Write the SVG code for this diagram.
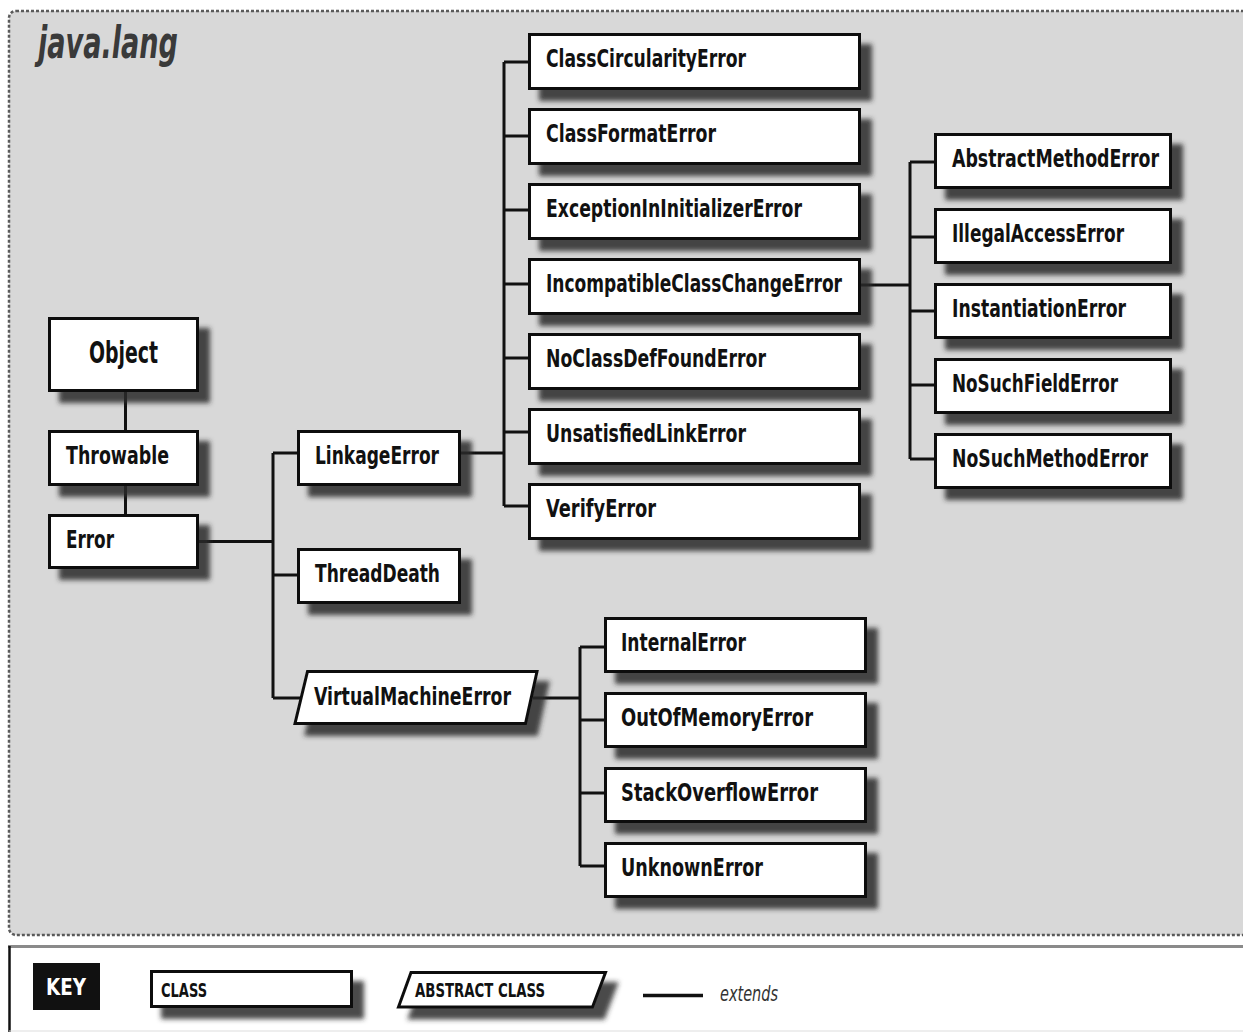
<svg xmlns="http://www.w3.org/2000/svg" width="1243" height="1032" viewBox="0 0 1243 1032">
<defs>
<filter id="sh" x="-20%" y="-40%" width="150%" height="200%">
<feDropShadow dx="11" dy="11" stdDeviation="2.6" flood-color="#2a2a2a" flood-opacity="0.85"/>
</filter>
<style>
.box{fill:#fff;stroke:#111;stroke-width:3;filter:url(#sh)}
.lbl{font-family:"Liberation Sans Narrow","DejaVu Sans Condensed","Liberation Sans",sans-serif;font-weight:bold;font-size:25px;fill:#111}
.big{font-size:31px}
.con path{fill:none;stroke:#111;stroke-width:3}
.key{font-family:"Liberation Sans Narrow","DejaVu Sans Condensed","Liberation Sans",sans-serif;font-weight:bold;font-size:19px;fill:#111}
</style>
</defs>
<rect width="1243" height="1032" fill="#ffffff"/>
<rect x="9" y="11" width="1260" height="924" rx="7" fill="#d8d8d8" stroke="#5a5a5a" stroke-width="2.5" stroke-dasharray="3 2"/>
<text x="38" y="58" textLength="140" lengthAdjust="spacingAndGlyphs" style="font-family:'Liberation Sans Narrow','DejaVu Sans Condensed','Liberation Sans',sans-serif;font-weight:bold;font-style:italic;font-size:44px;fill:#3a3a3a">java.lang</text>

<g class="con" id="connectors">
<path d="M125.5 391V430M125.5 486V514"/>
<path d="M199 541.5H273M273 453V698M273 453H297M273 575H297M273 698H300"/>
<path d="M461 453H504M504 62V506M504 62H528M504 136H528M504 210H528M504 284H528M504 358H528M504 432H528M504 506H528"/>
<path d="M860 285H910M910 162V459M910 162H934M910 237H934M910 311H934M910 385H934M910 459H934"/>
<path d="M533 698H580M580 647V866M580 647H604M580 720H604M580 793H604M580 866H604"/>
</g>

<g id="Object"><rect class="box" x="49.5" y="318.5" width="148" height="72"/><text class="lbl big" x="89" y="363" textLength="69" lengthAdjust="spacingAndGlyphs">Object</text></g>
<g id="Throwable"><rect class="box" x="49.5" y="431.5" width="148" height="53"/><text class="lbl" x="66" y="464" textLength="103" lengthAdjust="spacingAndGlyphs">Throwable</text></g>
<g id="Error"><rect class="box" x="49.5" y="515.5" width="148" height="52"/><text class="lbl" x="66" y="548" textLength="48" lengthAdjust="spacingAndGlyphs">Error</text></g>
<g id="LinkageError"><rect class="box" x="298.5" y="431.5" width="161" height="53"/><text class="lbl" x="315" y="464" textLength="124" lengthAdjust="spacingAndGlyphs">LinkageError</text></g>
<g id="ThreadDeath"><rect class="box" x="298.5" y="549.5" width="161" height="53"/><text class="lbl" x="315" y="582" textLength="125" lengthAdjust="spacingAndGlyphs">ThreadDeath</text></g>
<g id="VirtualMachineError"><path class="box" d="M307.5 671.5H537L525.5 723.5H295Z"/><text class="lbl" x="314" y="705" textLength="197" lengthAdjust="spacingAndGlyphs">VirtualMachineError</text></g>

<g id="ClassCircularityError"><rect class="box" x="529.5" y="34.5" width="330" height="54"/><text class="lbl" x="546" y="67" textLength="200" lengthAdjust="spacingAndGlyphs">ClassCircularityError</text></g>
<g id="ClassFormatError"><rect class="box" x="529.5" y="109.5" width="330" height="54"/><text class="lbl" x="546" y="142" textLength="170" lengthAdjust="spacingAndGlyphs">ClassFormatError</text></g>
<g id="ExceptionInInitializerError"><rect class="box" x="529.5" y="184.5" width="330" height="54"/><text class="lbl" x="546" y="217" textLength="256" lengthAdjust="spacingAndGlyphs">ExceptionInInitializerError</text></g>
<g id="IncompatibleClassChangeError"><rect class="box" x="529.5" y="259.5" width="330" height="54"/><text class="lbl" x="546" y="292" textLength="296" lengthAdjust="spacingAndGlyphs">IncompatibleClassChangeError</text></g>
<g id="NoClassDefFoundError"><rect class="box" x="529.5" y="334.5" width="330" height="54"/><text class="lbl" x="546" y="367" textLength="220" lengthAdjust="spacingAndGlyphs">NoClassDefFoundError</text></g>
<g id="UnsatisfiedLinkError"><rect class="box" x="529.5" y="409.5" width="330" height="54"/><text class="lbl" x="546" y="442" textLength="200" lengthAdjust="spacingAndGlyphs">UnsatisfiedLinkError</text></g>
<g id="VerifyError"><rect class="box" x="529.5" y="484.5" width="330" height="54"/><text class="lbl" x="546" y="517" textLength="110" lengthAdjust="spacingAndGlyphs">VerifyError</text></g>

<g id="AbstractMethodError"><rect class="box" x="935.5" y="134.5" width="235" height="53"/><text class="lbl" x="952" y="167" textLength="207" lengthAdjust="spacingAndGlyphs">AbstractMethodError</text></g>
<g id="IllegalAccessError"><rect class="box" x="935.5" y="209.5" width="235" height="53"/><text class="lbl" x="952" y="242" textLength="172" lengthAdjust="spacingAndGlyphs">IllegalAccessError</text></g>
<g id="InstantiationError"><rect class="box" x="935.5" y="284.5" width="235" height="53"/><text class="lbl" x="952" y="317" textLength="174" lengthAdjust="spacingAndGlyphs">InstantiationError</text></g>
<g id="NoSuchFieldError"><rect class="box" x="935.5" y="359.5" width="235" height="53"/><text class="lbl" x="952" y="392" textLength="166" lengthAdjust="spacingAndGlyphs">NoSuchFieldError</text></g>
<g id="NoSuchMethodError"><rect class="box" x="935.5" y="434.5" width="235" height="53"/><text class="lbl" x="952" y="467" textLength="196" lengthAdjust="spacingAndGlyphs">NoSuchMethodError</text></g>

<g id="InternalError"><rect class="box" x="605.5" y="618.5" width="260" height="53"/><text class="lbl" x="621" y="651" textLength="125" lengthAdjust="spacingAndGlyphs">InternalError</text></g>
<g id="OutOfMemoryError"><rect class="box" x="605.5" y="693.5" width="260" height="53"/><text class="lbl" x="621" y="726" textLength="192" lengthAdjust="spacingAndGlyphs">OutOfMemoryError</text></g>
<g id="StackOverflowError"><rect class="box" x="605.5" y="768.5" width="260" height="53"/><text class="lbl" x="621" y="801" textLength="197" lengthAdjust="spacingAndGlyphs">StackOverflowError</text></g>
<g id="UnknownError"><rect class="box" x="605.5" y="843.5" width="260" height="53"/><text class="lbl" x="621" y="876" textLength="142" lengthAdjust="spacingAndGlyphs">UnknownError</text></g>

<g id="key">
<rect x="9" y="947" width="1250" height="84" fill="#fff"/>
<path d="M8 946.5H1243" stroke="#8a8a8a" stroke-width="3"/>
<path d="M9.5 946V1032" stroke="#111" stroke-width="2.5"/>
<path d="M9 1031H1243" stroke="#dddddd" stroke-width="1"/>
<rect x="33" y="963" width="67" height="47" fill="#111"/>
<text class="key" x="46" y="995" textLength="40" lengthAdjust="spacingAndGlyphs" style="fill:#fff;font-size:23px">KEY</text>
<rect class="box" x="151.5" y="971.5" width="200" height="35" style="stroke-width:3"/>
<text class="key" x="161" y="997" textLength="46" lengthAdjust="spacingAndGlyphs">CLASS</text>
<path class="box" d="M411 972.5H605.5L592.5 1007H398.5Z"/>
<text class="key" x="415" y="997" textLength="130" lengthAdjust="spacingAndGlyphs">ABSTRACT CLASS</text>
<path d="M643 995.5H703" stroke="#111" stroke-width="3.5"/>
<text x="720" y="1001" textLength="58" lengthAdjust="spacingAndGlyphs" style="font-family:'Liberation Sans Narrow','DejaVu Sans Condensed','Liberation Sans',sans-serif;font-style:italic;font-size:21px;fill:#333">extends</text>
</g>
</svg>
